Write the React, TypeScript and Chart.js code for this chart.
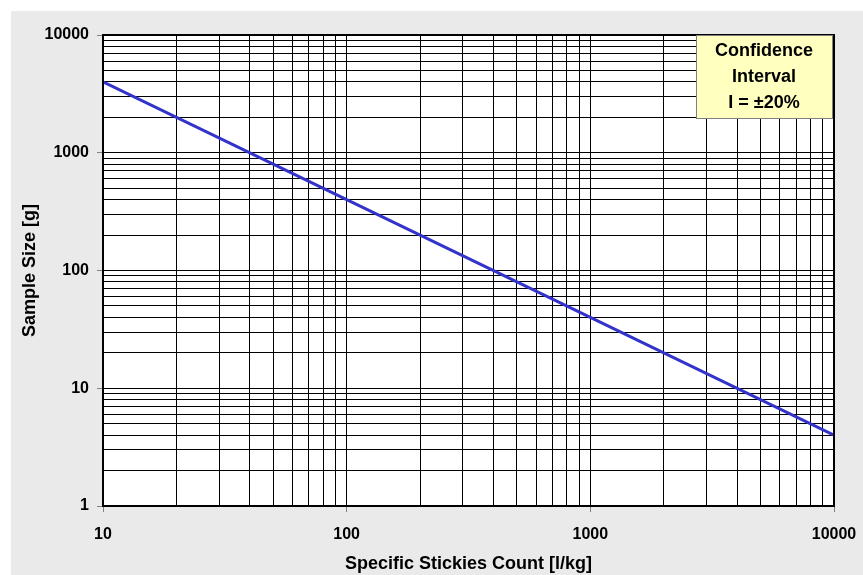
import React, { useEffect, useRef } from "react";
import { Chart, registerables } from "chart.js";

Chart.register(...registerables);

const stickiesCount = [10, 100, 1000, 10000];
const sampleSize = [4000, 400, 40, 4];
const xTickValues = [10, 100, 1000, 10000];
const yTickValues = [1, 10, 100, 1000, 10000];
const legendLines = ["Confidence", "Interval", "I = \u00b120%"];
const xTitle = "Specific Stickies Count [l/kg]";
const yTitle = "Sample Size [g]";

const FONT = "'Liberation Sans', Arial, sans-serif";

function logTicks(min: number, max: number) {
  const out: { value: number; major: boolean }[] = [];
  for (let d = min; d < max; d *= 10) {
    for (let m = 1; m <= 9; m++) out.push({ value: d * m, major: m === 1 });
  }
  out.push({ value: max, major: true });
  return out;
}

const isMajor = (v: number) => Math.abs(Math.log10(v) - Math.round(Math.log10(v))) < 1e-9;

const bgPlugin = {
  id: "bgPlugin",
  beforeDraw(chart: any) {
    const { ctx, chartArea } = chart;
    ctx.save();
    ctx.fillStyle = "#ffffff";
    ctx.fillRect(0, 0, chart.width, chart.height);
    ctx.fillStyle = "#eaeaea";
    ctx.fillRect(11, 11, chart.width - 11, chart.height - 11);
    ctx.fillStyle = "#ffffff";
    ctx.fillRect(chartArea.left, chartArea.top, chartArea.right - chartArea.left, chartArea.bottom - chartArea.top);
    ctx.restore();
  },
  afterDraw(chart: any) {
    const { ctx, chartArea } = chart;
    ctx.save();
    ctx.strokeStyle = "#000";
    ctx.lineWidth = 2;
    ctx.strokeRect(chartArea.left, chartArea.top, chartArea.right - chartArea.left, chartArea.bottom - chartArea.top);
    // legend box
    const bx = 696, by = 35, bw = 136, bh = 83;
    ctx.fillStyle = "#ffffc0";
    ctx.fillRect(bx, by, bw, bh);
    ctx.strokeStyle = "#808080";
    ctx.lineWidth = 1;
    ctx.strokeRect(bx + 0.5, by + 0.5, bw, bh);
    ctx.fillStyle = "#000";
    ctx.font = `bold 18px ${FONT}`;
    ctx.textAlign = "center";
    ctx.textBaseline = "middle";
    legendLines.forEach((t, i) => ctx.fillText(t, bx + bw / 2, 51 + i * 26));
    ctx.restore();
  },
};

export default function App() {
  const ref = useRef<HTMLCanvasElement>(null);
  useEffect(() => {
    if (!ref.current) return;
    const chart = new Chart(ref.current, {
      type: "line",
      data: {
        datasets: [
          {
            data: stickiesCount.map((x, i) => ({ x, y: sampleSize[i] })),
            borderColor: "#3333cc",
            borderWidth: 3,
            pointRadius: 0,
            fill: false,
            tension: 0,
          },
        ],
      },
      options: {
        animation: false,
        responsive: false,
        maintainAspectRatio: false,
        layout: { padding: { left: 0, top: 35, right: 29, bottom: 0 } },
        plugins: { legend: { display: false }, tooltip: { enabled: false } },
        scales: {
          x: {
            type: "logarithmic",
            min: 10,
            max: 10000,
            afterBuildTicks: (s: any) => {
              s.ticks = logTicks(10, 10000);
            },
            afterFit: (s: any) => {
              s.height = 69;
              s.paddingLeft = 0;
              s.paddingRight = 0;
            },
            ticks: {
              autoSkip: false,
              maxRotation: 0,
              padding: 13,
              color: "#000",
              font: { family: FONT, weight: "bold", size: 16 },
              callback: (v: any) => (xTickValues.includes(Number(v)) ? String(v) : ""),
            },
            grid: {
              color: "#000",
              lineWidth: 1,
              tickLength: 6,
              tickColor: (c: any) => (c.tick && isMajor(c.tick.value) ? "#808080" : "rgba(0,0,0,0)"),
            },
            border: { display: true, color: "#000", width: 2 },
            title: {
              display: true,
              text: xTitle,
              color: "#000",
              font: { family: FONT, weight: "bold", size: 18 },
              padding: { top: 0, bottom: 0 },
            },
          },
          y: {
            type: "logarithmic",
            min: 1,
            max: 10000,
            afterBuildTicks: (s: any) => {
              s.ticks = logTicks(1, 10000);
            },
            afterFit: (s: any) => {
              s.width = 103;
              s.paddingTop = 0;
              s.paddingBottom = 0;
            },
            ticks: {
              autoSkip: false,
              padding: 8,
              color: "#000",
              font: { family: FONT, weight: "bold", size: 16 },
              callback: (v: any) => (yTickValues.includes(Number(v)) ? String(v) : ""),
            },
            grid: {
              color: "#000",
              lineWidth: 1,
              tickLength: 6,
              tickColor: (c: any) => (c.tick && isMajor(c.tick.value) ? "#808080" : "rgba(0,0,0,0)"),
            },
            border: { display: true, color: "#000", width: 2 },
            title: {
              display: true,
              text: yTitle,
              color: "#000",
              font: { family: FONT, weight: "bold", size: 18 },
              padding: { top: 19, bottom: 0 },
            },
          },
        },
      },
      plugins: [bgPlugin],
    } as any);
    return () => chart.destroy();
  }, []);
  return (
    <div style={{ position: "absolute", left: 0, top: 0, width: 863, height: 575 }}>
      <canvas ref={ref} width={863} height={575} style={{ width: 863, height: 575, display: "block" }} />
    </div>
  );
}
